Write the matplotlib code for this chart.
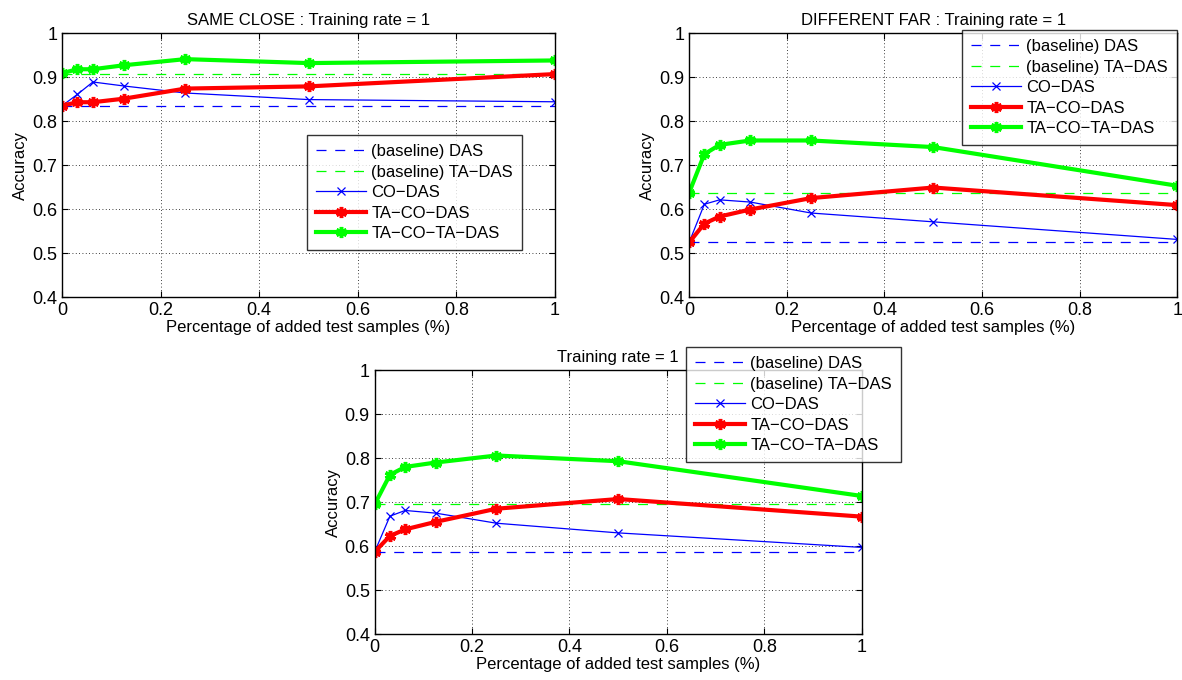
import matplotlib
matplotlib.use("Agg")
import matplotlib.pyplot as plt

plt.rcParams['font.family'] = ['Liberation Sans', 'DejaVu Sans']

x = [0, 1/32, 1/16, 1/8, 1/4, 1/2, 1]
labels = ['(baseline) DAS', '(baseline) TA\u2212DAS', 'CO\u2212DAS', 'TA\u2212CO\u2212DAS', 'TA\u2212CO\u2212TA\u2212DAS']

# SAME CLOSE
sc_das = 0.835
sc_tadas = 0.907
sc_co = [0.835, 0.861, 0.889, 0.880, 0.864, 0.849, 0.844]
sc_taco = [0.835, 0.843, 0.843, 0.851, 0.874, 0.879, 0.907]
sc_tacota = [0.909, 0.918, 0.918, 0.927, 0.941, 0.932, 0.938]

# DIFFERENT FAR
df_das = 0.524
df_tadas = 0.637
df_co = [0.524, 0.611, 0.621, 0.616, 0.591, 0.571, 0.531]
df_taco = [0.524, 0.567, 0.583, 0.599, 0.625, 0.649, 0.609]
df_tacota = [0.637, 0.725, 0.746, 0.756, 0.756, 0.741, 0.653]

# all
al_das = 0.587
al_tadas = 0.696
al_co = [0.587, 0.668, 0.681, 0.675, 0.652, 0.630, 0.597]
al_taco = [0.587, 0.623, 0.638, 0.655, 0.685, 0.707, 0.667]
al_tacota = [0.695, 0.762, 0.780, 0.790, 0.806, 0.793, 0.714]

star = (6, 2, 0)

def panel(ax, title, das, tadas, co, taco, tacota):
    ax.plot([0, 1], [das, das], color='#0000ff', lw=0.9, dashes=(8, 7))
    ax.plot([0, 1], [tadas, tadas], color='#00ff00', lw=0.9, dashes=(8, 7))
    ax.plot(x, co, color='#0000ff', lw=0.9, marker='x', ms=6, mew=0.9)
    ax.plot(x, taco, color='#ff0000', lw=3, marker=star, ms=8, mew=2.5)
    ax.plot(x, tacota, color='#00ff00', lw=3, marker=star, ms=8, mew=2.5)
    ax.set_xlim(0, 1)
    ax.set_ylim(0.4, 1)
    ax.set_xticks([0, 0.2, 0.4, 0.6, 0.8, 1])
    ax.set_xticklabels(['0', '0.2', '0.4', '0.6', '0.8', '1'])
    ax.set_yticks([0.4, 0.5, 0.6, 0.7, 0.8, 0.9, 1])
    ax.set_yticklabels(['0.4', '0.5', '0.6', '0.7', '0.8', '0.9', '1'])
    ax.tick_params(direction='in', labelsize=13, length=4, top=True, right=True)
    ax.grid(True, color='black', ls=(0, (1, 3)), lw=0.6)
    ax.set_xlabel('Percentage of added test samples (%)', fontsize=12, labelpad=1)
    ax.set_ylabel('Accuracy', fontsize=12, labelpad=3)
    ax.set_title(title, fontsize=12, pad=6)
    for s in ax.spines.values():
        s.set_linewidth(1.0)

fig = plt.figure(figsize=(11.82, 6.8), dpi=100)
ax1 = fig.add_axes([0.0525, 0.5632, 0.417, 0.388])
ax2 = fig.add_axes([0.583, 0.5632, 0.413, 0.388])
ax3 = fig.add_axes([0.317, 0.0676, 0.412, 0.388])

panel(ax1, 'SAME CLOSE : Training rate = 1', sc_das, sc_tadas, sc_co, sc_taco, sc_tacota)
panel(ax2, 'DIFFERENT FAR : Training rate = 1', df_das, df_tadas, df_co, df_taco, df_tacota)
panel(ax3, 'Training rate = 1', al_das, al_tadas, al_co, al_taco, al_tacota)

legkw = dict(fontsize=12, frameon=True, fancybox=False, edgecolor='black',
             handlelength=3.0, labelspacing=0.33, borderpad=0.55, handletextpad=0.3,
             borderaxespad=0)
for ax, loc, anchor in [(ax1, 'upper left', (307/1182, 1 - 135/680)),
                        (ax2, 'upper right', (1177/1182, 1 - 30/680)),
                        (ax3, 'upper left', (686/1182, 1 - 347/680))]:
    leg = ax.legend(ax.get_lines(), labels, loc=loc, bbox_to_anchor=anchor,
                    bbox_transform=fig.transFigure, **legkw)
    leg.get_frame().set_linewidth(1.0)

fig.savefig('out.png', dpi=100)
